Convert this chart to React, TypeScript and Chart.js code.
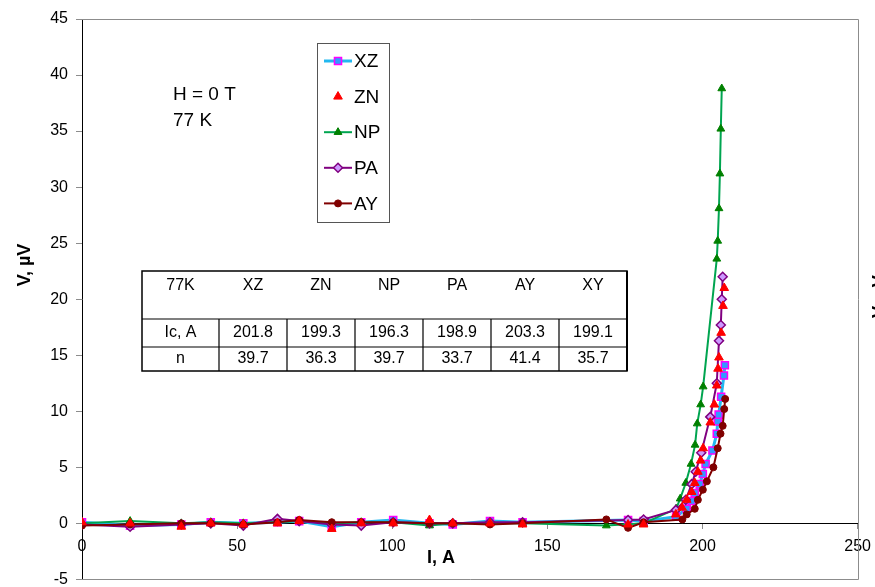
import React, { useEffect, useRef } from 'react';
import { Chart, registerables } from 'chart.js';
import { drawPoint } from 'chart.js/helpers';
Chart.register(...registerables);

// ---- data (I in A, V in µV) ----
const xzI = [0, 15.5, 32, 41.5, 52, 63, 70, 80.5, 90, 100.3, 112, 119.5, 131.5, 142, 176, 181, 191.5, 194.9, 196.5, 197.5, 199.1, 200.1, 201.0, 203.2, 204.6, 204.9, 205.2, 206.0, 206.9, 207.2];
const xzV = [0.1, -0.2, -0.1, 0.1, 0, 0.1, 0.2, -0.3, 0.1, 0.3, 0.0, -0.1, 0.2, 0.1, 0.3, 0.2, 0.6, 1.3, 2.0, 2.7, 3.5, 4.4, 5.3, 6.5, 8.0, 9.1, 9.7, 11.3, 13.2, 14.1];

const znI = [0, 15.5, 32, 41.5, 52, 63, 70, 80.5, 90, 100.3, 112, 119.5, 131.5, 142, 176, 181, 191.4, 193.4, 194.9, 196.5, 197.5, 198.5, 199.4, 200.2, 202.5, 203.8, 204.6, 205.0, 205.3, 206.0, 206.6, 207.0];
const znV = [0.1, 0.0, -0.3, 0.0, -0.1, 0.0, 0.2, -0.5, 0.0, 0.0, 0.3, 0.0, 0.0, -0.1, -0.1, -0.1, 0.8, 1.4, 2.1, 2.8, 3.6, 4.6, 5.6, 6.7, 9.0, 10.6, 12.3, 13.8, 14.8, 17.0, 19.4, 21.0];

const npI = [0, 15.5, 32, 41.5, 52, 63, 70, 80.5, 90, 100.3, 112, 119.5, 131.5, 142, 169, 181, 191.5, 192.8, 194.6, 196.3, 197.6, 198.3, 199.4, 200.2, 204.6, 204.9, 205.3, 205.6, 205.9, 206.2];
const npV = [0, 0.2, 0.0, 0.1, 0.0, 0.1, 0.2, 0.0, 0.1, 0.1, -0.2, 0.0, 0.0, 0.0, -0.2, 0.0, 1.3, 2.2, 3.6, 5.3, 7.0, 8.9, 10.6, 12.2, 23.6, 25.2, 28.1, 31.2, 35.2, 38.8];

const paI = [0, 15.5, 32, 41.5, 52, 63, 70, 80.5, 90, 100.3, 112, 119.5, 131.5, 142, 176, 181, 191.4, 194.6, 196.5, 197.8, 199.6, 202.5, 204.6, 205.3, 205.9, 206.2, 206.5];
const paV = [-0.1, -0.3, -0.1, 0.0, -0.2, 0.4, 0.2, -0.1, -0.2, 0.1, 0.0, 0.0, 0.1, 0.1, 0.3, 0.35, 1.2, 2.1, 3.5, 4.6, 6.3, 9.5, 12.5, 16.3, 17.7, 20.0, 22.0];

const ayI = [0, 15.5, 32, 41.5, 52, 63, 70, 80.5, 90, 100.3, 112, 119.5, 131.5, 142, 169, 176, 181, 193.5, 194.9, 197.5, 198.5, 200.1, 201.4, 203.5, 204.9, 205.8, 206.5, 207.0, 207.3];
const ayV = [-0.2, -0.1, 0.0, 0.0, -0.1, 0.1, 0.3, 0.1, 0.1, 0.1, 0.0, 0.0, -0.1, 0.0, 0.35, -0.4, 0.1, 0.35, 0.8, 1.3, 2.1, 3.0, 3.75, 5.0, 6.7, 8.0, 8.7, 10.2, 11.1];

const seriesNames = ['XZ', 'ZN', 'NP', 'PA', 'AY'];

const tableHeader = ['77K', 'XZ', 'ZN', 'NP', 'PA', 'AY', 'XY'];
const tableIc = ['Ic, A', '201.8', '199.3', '196.3', '198.9', '203.3', '199.1'];
const tableN = ['n', '39.7', '36.3', '39.7', '33.7', '41.4', '35.7'];

const annotLines = ['H = 0 T', '77 K'];
const xTitle = 'I, A';
const yTitle = 'V, µV';

const FONT = '"Liberation Sans", Arial, sans-serif';

const pts = (xs: number[], ys: number[]) => xs.map((x, i) => ({ x, y: ys[i] }));

const overlay = {
  id: 'overlay',
  beforeDatasetsDraw(chart: any) {
    const { ctx, chartArea: a } = chart;
    ctx.save();
    ctx.strokeStyle = '#8c8c8c';
    ctx.lineWidth = 1;
    ctx.beginPath();
    ctx.moveTo(a.left, Math.round(a.top) + 0.5);
    ctx.lineTo(Math.round(a.right) + 0.5, Math.round(a.top) + 0.5);
    ctx.lineTo(Math.round(a.right) + 0.5, Math.round(a.bottom) + 0.5);
    ctx.lineTo(a.left, Math.round(a.bottom) + 0.5);
    ctx.stroke();
    ctx.restore();
  },
  afterDraw(chart: any) {
    const { ctx } = chart;
    ctx.save();
    ctx.fillStyle = '#000';
    // axis titles
    ctx.font = `bold 18px ${FONT}`;
    ctx.textAlign = 'center';
    ctx.textBaseline = 'middle';
    ctx.fillText(xTitle, 441, 558);
    ctx.save();
    ctx.translate(25, 265);
    ctx.rotate(-Math.PI / 2);
    ctx.fillText(yTitle, 0, 0);
    ctx.restore();
    // clipped secondary title at right edge
    ctx.save();
    ctx.translate(885, 318);
    ctx.rotate(-Math.PI / 2);
    ctx.textAlign = 'left';
    ctx.textBaseline = 'alphabetic';
    ctx.fillText(yTitle, 0, 0);
    ctx.restore();

    // annotation
    ctx.font = `19px ${FONT}`;
    ctx.textAlign = 'left';
    ctx.textBaseline = 'middle';
    ctx.fillText(annotLines[0], 173, 95);
    ctx.fillText(annotLines[1], 173, 121);

    // legend
    ctx.fillStyle = '#fff';
    ctx.fillRect(317, 43, 72, 179);
    ctx.strokeStyle = '#555';
    ctx.lineWidth = 1;
    ctx.strokeRect(317.5, 43.5, 72, 179);
    const dsets = chart.data.datasets;
    for (let i = 0; i < dsets.length; i++) {
      const d = dsets[i];
      const y = 61 + i * 35.6;
      if (d.showLine !== false) {
        ctx.strokeStyle = d.borderColor;
        ctx.lineWidth = d.borderWidth;
        ctx.beginPath();
        ctx.moveTo(324, y);
        ctx.lineTo(352, y);
        ctx.stroke();
      }
      ctx.fillStyle = d.pointBackgroundColor;
      ctx.strokeStyle = d.pointBorderColor;
      ctx.lineWidth = d.pointBorderWidth;
      drawPoint(ctx, { pointStyle: d.pointStyle, radius: d.pointRadius, rotation: 0, borderWidth: d.pointBorderWidth }, 338, y);
      ctx.fillStyle = '#000';
      ctx.font = `19px ${FONT}`;
      ctx.textAlign = 'left';
      ctx.textBaseline = 'middle';
      ctx.fillText(d.label, 354, y + 1);
    }

    // table
    const left = 142, firstW = 77, colW = 68;
    const rowsY = [271, 319, 347, 371];
    const right = left + firstW + colW * 6;
    ctx.fillStyle = '#fff';
    ctx.fillRect(left, rowsY[0], right - left, rowsY[3] - rowsY[0]);
    ctx.strokeStyle = '#000';
    ctx.lineWidth = 1.5;
    ctx.strokeRect(left, rowsY[0], right - left, rowsY[3] - rowsY[0]);
    ctx.lineWidth = 2;
    ctx.beginPath();
    ctx.moveTo(right, rowsY[0]);
    ctx.lineTo(right, rowsY[3]);
    ctx.stroke();
    ctx.lineWidth = 1.2;
    ctx.beginPath();
    ctx.moveTo(left, rowsY[1]);
    ctx.lineTo(right, rowsY[1]);
    ctx.moveTo(left, rowsY[2]);
    ctx.lineTo(right, rowsY[2]);
    for (let c = 0; c < 6; c++) {
      const x = left + firstW + colW * c;
      ctx.moveTo(x, rowsY[1]);
      ctx.lineTo(x, rowsY[3]);
    }
    ctx.stroke();
    ctx.fillStyle = '#000';
    ctx.font = `16px ${FONT}`;
    ctx.textAlign = 'center';
    ctx.textBaseline = 'middle';
    const colCenter = (c: number) => (c === 0 ? left + firstW / 2 : left + firstW + colW * (c - 1) + colW / 2);
    const rows: [string[], number][] = [[tableHeader, 286], [tableIc, 333], [tableN, 359]];
    rows.forEach(([cells, y]) => {
      cells.forEach((t, c) => ctx.fillText(t, colCenter(c), y));
    });
    ctx.restore();
  },
};

export default function App() {
  const ref = useRef<HTMLCanvasElement>(null);
  useEffect(() => {
    if (!ref.current) return;
    const chart = new Chart(ref.current, {
      type: 'scatter',
      data: {
        datasets: [
          {
            label: seriesNames[0], data: pts(xzI, xzV), showLine: true, order: 4,
            borderColor: '#22B8F0', borderWidth: 3,
            pointStyle: 'rect', pointRadius: 5, pointBackgroundColor: '#3399FF', pointBorderColor: '#FF00FF', pointBorderWidth: 1.5,
          },
          {
            label: seriesNames[1], data: pts(znI, znV), showLine: false, order: 0,
            borderColor: '#FF0000', borderWidth: 0,
            pointStyle: 'triangle', pointRadius: 5, pointBackgroundColor: '#FF0000', pointBorderColor: '#FF0000', pointBorderWidth: 1,
          },
          {
            label: seriesNames[2], data: pts(npI, npV), showLine: true, order: 3,
            borderColor: '#00A550', borderWidth: 2,
            pointStyle: 'triangle', pointRadius: 4.5, pointBackgroundColor: '#008000', pointBorderColor: '#008000', pointBorderWidth: 1,
          },
          {
            label: seriesNames[3], data: pts(paI, paV), showLine: true, order: 2,
            borderColor: '#800080', borderWidth: 2,
            pointStyle: 'rectRot', pointRadius: 4.5, pointBackgroundColor: '#CC99FF', pointBorderColor: '#800080', pointBorderWidth: 1.5,
          },
          {
            label: seriesNames[4], data: pts(ayI, ayV), showLine: true, order: 1,
            borderColor: '#800000', borderWidth: 2,
            pointStyle: 'circle', pointRadius: 3.5, pointBackgroundColor: '#800000', pointBorderColor: '#800000', pointBorderWidth: 1,
          },
        ] as any,
      },
      options: {
        animation: false,
        responsive: false,
        events: [],
        layout: { padding: { left: 0, top: 19, right: 12, bottom: 0 } },
        plugins: { legend: { display: false }, tooltip: { enabled: false } },
        elements: { line: { tension: 0 } },
        scales: {
          x: {
            type: 'linear',
            position: { y: 0 } as any,
            min: 0, max: 250,
            ticks: { stepSize: 50, color: '#000', font: { family: FONT, size: 16 }, padding: 9, maxRotation: 0 },
            grid: { drawOnChartArea: false, tickLength: 5, color: '#8c8c8c' },
            border: { display: true, color: '#000', width: 1 },
          },
          y: {
            type: 'linear',
            position: 'left',
            min: -5, max: 45,
            ticks: { stepSize: 5, color: '#000', font: { family: FONT, size: 16 }, padding: 8 },
            grid: { drawOnChartArea: false, tickLength: 6, color: '#8c8c8c' },
            border: { display: true, color: '#000', width: 1 },
            afterFit: (s: any) => { s.width = 82; },
          },
        },
      },
      plugins: [overlay],
    });
    return () => chart.destroy();
  }, []);
  return (
    <div style={{ position: 'fixed', left: 0, top: 0, width: 875, height: 587, overflow: 'hidden', background: '#fff' }}>
      <canvas ref={ref} width={880} height={597} style={{ display: 'block' }} />
    </div>
  );
}
